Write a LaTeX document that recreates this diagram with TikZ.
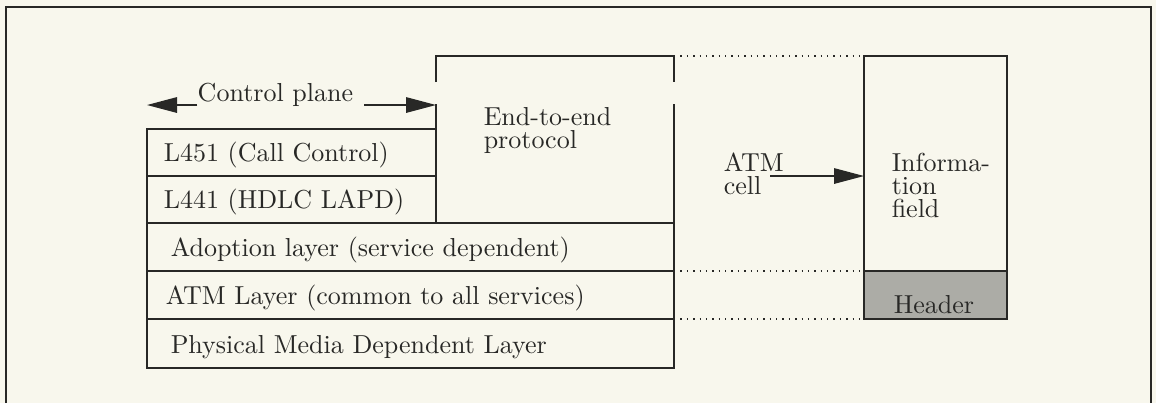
\documentclass[tikz,border=0pt]{standalone}
\usetikzlibrary{arrows.meta}
\definecolor{paper}{RGB}{248,247,237}
\definecolor{hdrgray}{RGB}{172,172,166}
\definecolor{ink}{RGB}{40,40,38}
\begin{document}
\begin{tikzpicture}[
	x=0.4pt,y=-0.4pt,
	line width=0.6pt,
	draw=ink,
	lbl/.style={anchor=base west,inner sep=0pt,text=ink,font=\fontsize{10.4}{12}\selectfont},
	twoline/.style={anchor=north west,inner sep=0pt,align=left,text=ink,font=\fontsize{10.4}{9.2}\selectfont},
	dotline/.style={dotted,line width=0.55pt},
	bigtip/.style={-{Triangle[length=12pt,width=6.2pt]}}
	]
	\fill[paper] (0,0) rectangle (1156,403);
	\useasboundingbox (0,0) rectangle (1156,403);
	% outer frame, open at the bottom
	\draw[line width=0.8pt] (6,403) -- (6,7) -- (1151,7) -- (1151,403);
	
	% control plane stack
	\draw (147,129) rectangle (436,223);
	\draw (147,176) -- (436,176);
	\node[lbl] (l451) at (163,161) {L451 (Call Control)};
	\node[lbl] (l441) at (163,208) {L441 (HDLC LAPD)};
	
	% end-to-end box
	\draw (436,82) -- (436,56) -- (674,56) -- (674,82);
	\draw (436,104) -- (436,223);
	\draw (674,104) -- (674,223);
	\node[twoline] (e2e) at (483,107) {End-to-end\\protocol};
	
	% common layers
	\draw (147,223) rectangle (674,368);
	\draw (147,271) -- (674,271);
	\draw (147,319) -- (674,319);
	\node[lbl] (aal) at (170,256) {Adoption layer (service dependent)};
	\node[lbl] (atml) at (165,304) {ATM Layer (common to all services)};
	\node[lbl] (pmd) at (170,353) {Physical Media Dependent Layer};
	
	% control plane arrows
	\node[lbl] (cplane) at (197,101) {Control plane};
	\coordinate (cpL) at (147,105);
	\coordinate (cpR) at (436,105);
	\coordinate (cpS) at (364,105);
	\draw[bigtip,fill=ink] (cplane.west |- cpL) -- (cpL);
	\draw[bigtip,fill=ink] (cpS) -- (cpR);
	
	% ATM cell
	\fill[hdrgray] (864,271) rectangle (1007,319);
	\draw (864,56) rectangle (1007,319);
	\draw (864,271) -- (1007,271);
	\node[twoline] (info) at (891,152) {Informa-\\tion\\field};
	\node[lbl] (hdr) at (893,313) {Header};
	\node[twoline] (cell) at (723,152) {ATM\\cell};
	\coordinate (cellS) at (770,176);
	\coordinate (infoW) at (864,176);
	\draw[bigtip,fill=ink] (cellS) -- (infoW);
	
	% dotted links
	\draw[dotline] (674,56) -- (864,56);
	\draw[dotline] (674,271) -- (864,271);
	\draw[dotline] (674,319) -- (864,319);
\end{tikzpicture}
\end{document}
